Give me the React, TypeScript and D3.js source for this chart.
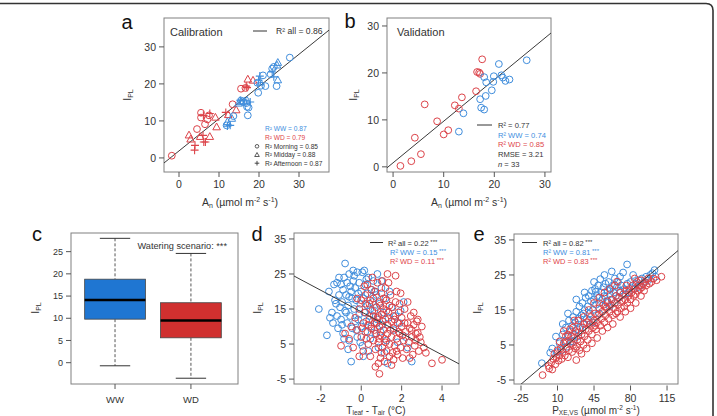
import React from 'react';
import * as d3 from 'd3';

const FONT = '"Liberation Sans", Arial, Helvetica, sans-serif';
const TXT = '#333';
const BLUE = '#3f8ddc';
const RED = '#dc4349';
const BLUE_T = '#3d8ee0';
const RED_T = '#e0454a';

type P = [number, number];

// ---------- panel a (calibration) ----------
const aTicksX = [0, 10, 20, 30];
const aTicksY = [0, 10, 20, 30];
const aWDMorning: P[] = [[-1.8, 0.6], [4.5, 7.8], [5.5, 12.2], [5.5, 10.9], [6.5, 9.1], [7.1, 10.4], [13.4, 14.5], [15.5, 18.7], [16.6, 18.9], [7.5, 11.5]];
const aWDMidday: P[] = [[2.5, 6.1], [2.9, 5.0], [5.3, 5.7], [7.7, 5.7], [9.4, 8.3], [9.1, 10.9], [14.3, 12.9], [17.2, 21.2], [18.5, 20.9], [12.3, 11.6]];
const aWDAfternoon: P[] = [[3.9, 2.1], [4.0, 3.4], [6.2, 4.3], [6.6, 4.3], [7.7, 12.0], [6.1, 11.5], [11.7, 12.3], [16.8, 19.4], [17.0, 19.0], [6.0, 6.1]];
const aWWMorning: P[] = [[11.9, 8.8], [13.6, 11.3], [16.1, 15.1], [17.0, 13.8], [17.2, 11.5], [17.4, 13.6], [19.6, 20.3], [19.8, 17.6], [21.0, 22.3], [21.6, 19.4], [22.9, 22.6], [23.3, 24.1], [23.7, 24.6], [24.4, 19.4], [27.7, 27.1], [20.5, 19.5], [15.5, 15.5], [16.8, 14.8]];
const aWWMidday: P[] = [[12.1, 9.7], [13.2, 10.6], [15.5, 15.1], [14.9, 14.7], [24.7, 25.7], [24.5, 25.0], [24.7, 21.0], [20.3, 20.4], [17.0, 15.5]];
const aWWAfternoon: P[] = [[12.1, 8.6], [12.8, 8.8], [15.3, 15.6], [16.3, 15.4], [19.9, 21.0], [20.2, 22.1], [23.3, 23.2], [23.7, 21.9], [17.8, 15.1]];
const aFit = [1.9, 0.87];
const aLegend = ['R² all = 0.86', 'R² WW = 0.87', 'R² WD = 0.79', 'R² Morning = 0.85', 'R² Midday = 0.88', 'R² Afternoon = 0.87'];

// ---------- panel b (validation) ----------
const bTicksX = [0, 10, 20, 30];
const bTicksY = [0, 10, 20, 30];
const bWD: P[] = [[1.45, 0.2], [3.6, 1.2], [4.3, 6.2], [5.5, 2.7], [6.25, 13.3], [8.7, 9.7], [10.0, 6.9], [10.9, 7.8], [12.2, 13.1], [13.0, 12.4], [13.6, 14.8], [16.4, 16.1], [16.6, 20.2], [17.0, 20.1], [17.2, 19.8], [17.6, 22.9]];
const bWW: P[] = [[13.0, 7.5], [13.9, 11.4], [17.2, 14.4], [17.4, 12.6], [18.0, 12.2], [18.0, 19.1], [18.4, 18.0], [18.3, 15.1], [19.5, 16.3], [19.8, 18.1], [19.9, 19.3], [20.9, 21.9], [21.4, 19.5], [21.7, 19.0], [22.2, 18.3], [23.0, 18.6], [26.4, 22.7]];
const bFit = [0.86, 0.886];
const bLegend = ['R² = 0.77', 'R² WW = 0.74', 'R² WD = 0.85', 'RMSE = 3.21', '= 33'];

// ---------- panel c (boxplot) ----------
const cGroups = ['WW', 'WD'];
const cLow = [-0.7, -3.5];
const cQ1 = [9.8, 5.6];
const cMedian = [14.1, 9.5];
const cQ3 = [18.8, 13.5];
const cHigh = [28.0, 24.6];
const cTicksY = [0, 5, 10, 15, 20, 25];

// ---------- panel d ----------
const dTicksX = [-2, 0, 2, 4];
const dTicksY = [-5, 5, 15, 25, 35];
const dWW: P[] = [[-2.1, 15], [-1.7, 7.5], [-1.6, 20], [-1.45, 14], [-1.4, 11], [-1.3, 17.5], [-1.2, 22.5], [-1.2, 13], [-1.15, 9.5], [-1.1, 19], [-1.05, 15.5], [-1.0, 22], [-1.0, 12], [-0.95, 17], [-0.9, 20.5], [-0.9, 8], [-0.85, 24], [-0.8, 28], [-0.8, 14.5], [-0.75, 19], [-0.7, 11], [-0.7, 22.5], [-0.65, 16], [-0.6, 25], [-0.6, 6], [-0.55, 13], [-0.5, 20], [-0.5, 0], [-0.45, 18], [-0.45, 9.5], [-0.4, 26], [-0.4, 23], [-0.35, 15], [-0.3, 21], [-0.3, 11.5], [-0.25, 17.5], [-0.2, 25.5], [-0.2, 7], [-0.15, 19.5], [-0.1, 13.5], [-0.1, 22.5], [-0.05, 16.5], [0, 20], [0, 10], [0.05, 25.5], [0.05, 4.5], [0.1, 18], [0.1, 1.5], [0.15, 14], [0.2, 22], [0.2, 8.5], [0.25, 11.5], [0.3, 19.5], [0.3, 16], [0.35, 24], [0.4, 13], [0.45, 6.5], [0.5, 20.5], [0.5, 10], [0.55, 17], [0.6, 23], [0.65, 14.5], [0.7, 8], [0.75, 19], [0.8, 25], [0.8, 12], [0.85, 4], [0.9, 16.5], [1.0, 23], [1.0, 21], [1.05, 10.5], [1.1, 14], [1.2, 18], [1.25, 6], [1.3, -0.5], [1.35, 12.5], [1.5, 15.5], [1.6, 9], [1.7, 13], [1.9, 11], [2.1, 17], [2.2, 7], [2.5, 0], [2.3, 4], [-1.35, 22], [-1.1, 24], [-0.95, 10.5], [-0.6, 18.5], [-0.25, 9], [0.15, 26], [-0.75, 14], [-0.55, 21.5], [0.35, 3], [0.65, 20], [-1.55, 12.5], [-1.25, 16.5], [-0.85, 6.5], [-0.15, 12], [0.45, 15], [0.95, 8.5], [1.4, 20], [1.15, 2.5], [-0.05, 5.5], [0.25, 23.5], [-0.35, 24.5], [-0.65, 3.5], [0.75, 11], [1.8, 5.5], [1.95, 14.5]];
const dWD: P[] = [[-1.0, 4.5], [-0.8, 8], [-0.6, 6.5], [-0.5, 10], [-0.4, 4], [-0.3, 12.5], [-0.2, 9], [-0.1, 15], [0, 7], [0, 17.5], [0.1, 11], [0.1, 3], [0.2, 14], [0.2, 19], [0.3, 8.5], [0.3, 22], [0.35, 5], [0.4, 12], [0.4, 16.5], [0.45, 1.5], [0.5, 9.5], [0.5, 20.5], [0.55, 14.5], [0.6, 6], [0.6, 18], [0.65, 11], [0.7, -1.5], [0.7, 3.5], [0.75, 8], [0.75, 15.5], [0.8, 22.5], [0.8, 12.5], [0.85, 5.5], [0.9, -3.5], [0.9, 10], [0.9, 17], [0.95, 1], [0.95, 7.5], [1.0, 13.5], [1.0, 19.5], [1.05, 4], [1.05, 11.5], [1.1, 9], [1.1, 15], [1.15, 0], [1.15, 6.5], [1.2, 21], [1.2, 12], [1.25, 3], [1.25, 17.5], [1.3, 8], [1.3, 10.5], [1.35, 14], [1.4, 5], [1.4, 1.5], [1.45, 19], [1.5, 11.5], [1.5, 7], [1.55, 2.5], [1.55, 15.5], [1.6, 9.5], [1.6, 13], [1.65, 4.5], [1.7, 24.5], [1.7, 17], [1.75, 6.5], [1.8, 11], [1.8, 2], [1.85, 14], [1.9, 8], [1.95, 4], [2.0, 10], [2.0, 12.5], [2.05, 1], [2.1, 6], [2.15, 15], [2.2, 8.5], [2.25, 3.5], [2.3, 11], [2.35, 5.5], [2.4, 9.5], [2.45, 13], [2.5, 7], [2.55, 2], [2.6, 10.5], [2.65, 4.5], [2.7, 8], [2.75, 11.5], [2.8, 8.2], [2.85, 3], [2.9, 7], [2.95, 5.5], [3.2, 2.5], [3.5, -0.5], [4.0, 0.5], [3.0, 10], [2.3, 17], [1.95, 19.5], [2.6, 14], [0.15, 21.5], [0.55, 24], [-0.2, 18], [0.25, 6.5], [0.65, 9], [1.35, 22.5], [1.75, 20], [0.85, 13], [1.2, 5.5], [1.65, 12], [2.05, 7.5], [0.45, 17.5], [1.0, 2.5], [1.5, -1], [1.25, 14.5], [0.7, 20], [2.8, 12], [1.1, 18], [0.35, 10.5], [0.95, 16], [1.45, 9], [1.9, 16.5], [-0.1, 1.5], [0.05, 9.5], [2.4, 1], [2.7, 6], [3.1, 4], [1.6, 0.5], [0.85, -0.5], [1.3, 25], [1.05, 23], [0.6, 13], [2.15, 11], [1.75, 3], [0.9, 6.5], [2.5, 9], [1.4, 16], [0.2, 16.5], [0.75, 11], [1.85, 8.5]];
const dFit = [14.2, -3.07];
const dLegend = ['R² all =  0.22', 'R² WW =  0.15', 'R² WD =  0.11'];

// ---------- panel e ----------
const eTicksX = [-25, 10, 45, 80, 115];
const eTicksY = [-5, 5, 15, 25, 35];
const eWW: P[] = [[-5, -0.2], [3, 2.8], [5, 4], [8.5, 7.4], [10, 3], [12, 5.5], [14, 3.5], [15, 8], [17, 6], [18, 10], [19, 4.5], [20, 7.5], [21, 12], [22, 9], [23, 6], [24, 10.5], [25, 13], [26, 8], [27, 11.5], [28, 14.5], [29, 9.5], [30, 12.5], [31, 16], [32, 10], [33, 13.5], [34, 17], [35, 11], [36, 15], [37, 18.5], [38, 12.5], [39, 16], [40, 19], [41, 14], [42, 17.5], [43, 20.5], [44, 15], [45, 18], [46, 21], [46.7, 20.2], [47, 16.5], [48, 19], [49, 22], [50, 17], [51, 23.8], [52, 20], [53, 18], [54, 21.5], [55, 19], [56, 22.5], [57, 17.5], [58, 20.5], [59, 23], [60, 19.5], [61, 21], [62, 18], [63, 22], [64, 20], [65, 24], [66, 19], [67, 21.5], [68, 23], [69, 18.5], [70, 20.5], [71, 22], [72.9, 25.7], [74, 21], [75, 19.5], [76.7, 28], [77, 22.5], [78, 20], [80, 23], [82.5, 25], [83, 21], [85, 22.5], [87, 21.5], [88, 23.5], [90, 22], [91, 24], [93, 23], [95, 24.5], [97, 23.5], [99, 25], [101, 25.5], [103, 26.4], [104, 24.5], [15, 11], [20, 14], [25, 6], [30, 7.5], [35, 14], [40, 12], [45, 23], [50, 14], [55, 25], [60, 16], [65, 17], [70, 24.5], [62, 26], [58, 17], [44, 11.5], [36, 20], [28, 18]];
const eWD: P[] = [[-4.3, -3.6], [2.1, -1.7], [1.5, -1], [4, 0], [5, -2], [6, 1], [7, 2.5], [8, -0.5], [9, 1.5], [10, 3.5], [11, 0.5], [12, 2], [13, 4], [14, 1], [15, 3], [16, 5.5], [17, 2], [18, 4], [19, 6], [20, 1.5], [21, 3.5], [22, 5.5], [23, 7.5], [24, 3], [25, 5], [26, 7], [27, 9], [28, 0.7], [28.5, 4.5], [29, 6.5], [30, 8.5], [31, 3.5], [32, 6], [33, 8], [34, 10], [35, 5], [36, 7.5], [37, 9.5], [38, 11.5], [39, 6.5], [40, 9], [41, 11], [42, 13], [43, 8], [44, 10], [45, 12], [46, 14], [47, 9.5], [48, 11.5], [49, 13.5], [50, 15.5], [51, 10.5], [52, 12.5], [53, 14.5], [54, 16.5], [55, 11.5], [56, 13.5], [57, 15.5], [58, 17.5], [59, 12.5], [60, 14.5], [61, 16.5], [62, 18], [63, 13.5], [64, 15.5], [65, 17], [66, 19], [67, 23.1], [67.5, 14.5], [68, 16.5], [69, 18.5], [70, 20], [71, 15.5], [72, 17.5], [73, 19.5], [74, 16], [75, 18], [76, 20.5], [77, 17], [78, 19], [79, 21], [80, 18], [81, 20], [82, 22], [83, 19], [84, 21], [85, 19.5], [86, 23], [87, 20.5], [88, 22], [89, 21], [90, 23.5], [91, 21.5], [92, 22.5], [93, 20.5], [94, 23], [95, 22], [97, 24], [98, 22.5], [100, 23], [102, 24], [105, 23.5], [109.6, 24.5], [20, 8], [25, 10], [30, 12], [35, 13], [40, 15], [45, 17], [50, 18.5], [55, 20], [60, 21], [65, 22], [18, 7.5], [22, 9.5], [27, 4], [33, 2.5], [38, 4], [43, 5.5], [48, 7], [53, 9], [58, 10], [63, 11], [70, 13], [75, 14.5], [80, 15.5], [85, 17], [90, 19], [12, 6], [16, 9], [26, 12], [36, 11], [46, 10.5], [56, 16], [66, 14], [76, 22], [84, 24]];
const eFit = [0.14, 0.2535];
const eLegend = ['R² all =  0.82', 'R² WW =  0.81', 'R² WD =  0.83'];

type Sc = d3.ScaleLinear<number, number>;

function Axes({ xs, ys, xTicks, yTicks, fs = 10.5, xLabDy = 12, xTickGap = 0 }: any) {
  const [x0, x1] = xs.range();
  const [yb, yt] = ys.range();
  return (
    <g fontFamily={FONT} fontSize={fs} fill={TXT}>
      <rect x={x0} y={yt} width={x1 - x0} height={yb - yt} fill="none" stroke="#808080" strokeWidth={1} />
      {yTicks.map((t: number) => (
        <g key={'y' + t}>
          <line x1={x0 - 5} x2={x0} y1={ys(t)} y2={ys(t)} stroke="#555" />
          <text x={x0 - 8} y={ys(t)} dy="0.35em" textAnchor="end">{t}</text>
        </g>
      ))}
      {xTicks.map((t: number) => (
        <g key={'x' + t}>
          <line x1={xs(t)} x2={xs(t)} y1={yb + xTickGap} y2={yb + xTickGap + 5} stroke="#555" />
          <text x={xs(t)} y={yb + xLabDy} dy="0.35em" textAnchor="middle">{t}</text>
        </g>
      ))}
    </g>
  );
}

function YLab({ x, y }: { x: number; y: number }) {
  return (
    <text transform={`translate(${x},${y}) rotate(-90)`} textAnchor="middle" fontFamily={FONT} fontSize={10.5} fill={TXT}>
      I<tspan fontSize={7} dy={2}>PL</tspan>
    </text>
  );
}

function Letter({ x, y, t }: { x: number; y: number; t: string }) {
  return <text x={x} y={y} textAnchor="middle" fontFamily={FONT} fontSize={20} fill="#111">{t}</text>;
}

function UnitLabel({ x, y, main, sub, fs = 10.5, sfs = 7, sd = 2, su = 4 }: any) {
  return (
    <text x={x} y={y} textAnchor="middle" fontFamily={FONT} fontSize={fs} fill={TXT}>
      {main}<tspan fontSize={sfs} dy={sd}>{sub}</tspan>
      <tspan dy={-sd}> (µmol m</tspan><tspan fontSize={sfs} dy={-su}>-2</tspan>
      <tspan dy={su}> s</tspan><tspan fontSize={sfs} dy={-su}>-1</tspan><tspan dy={su}>)</tspan>
    </text>
  );
}

function FitLine({ xs, ys, fit, id }: { xs: Sc; ys: Sc; fit: number[]; id: string }) {
  const [d0, d1] = xs.domain();
  return (
    <g clipPath={`url(#${id})`}>
      <line x1={xs(d0)} y1={ys(fit[0] + fit[1] * d0)} x2={xs(d1)} y2={ys(fit[0] + fit[1] * d1)} stroke="#3a3a3a" strokeWidth={1} />
    </g>
  );
}

function Clip({ xs, ys, id }: { xs: Sc; ys: Sc; id: string }) {
  const [x0, x1] = xs.range();
  const [yb, yt] = ys.range();
  return (
    <clipPath id={id}>
      <rect x={x0} y={yt} width={x1 - x0} height={yb - yt} />
    </clipPath>
  );
}

function Circles({ pts, xs, ys, color, r = 3.4 }: { pts: P[]; xs: Sc; ys: Sc; color: string; r?: number }) {
  return (
    <g fill="none" stroke={color} strokeWidth={1}>
      {pts.map((p, i) => <circle key={i} cx={xs(p[0])} cy={ys(p[1])} r={r} />)}
    </g>
  );
}

function Triangles({ pts, xs, ys, color }: { pts: P[]; xs: Sc; ys: Sc; color: string }) {
  return (
    <g fill="none" stroke={color} strokeWidth={1}>
      {pts.map((p, i) => {
        const cx = xs(p[0]), cy = ys(p[1]);
        return <path key={i} d={`M${cx},${cy - 4.2}L${cx + 3.8},${cy + 2.6}L${cx - 3.8},${cy + 2.6}Z`} />;
      })}
    </g>
  );
}

function Pluses({ pts, xs, ys, color }: { pts: P[]; xs: Sc; ys: Sc; color: string }) {
  return (
    <g fill="none" stroke={color} strokeWidth={1.1}>
      {pts.map((p, i) => {
        const cx = xs(p[0]), cy = ys(p[1]);
        return <path key={i} d={`M${cx - 4},${cy}H${cx + 4}M${cx},${cy - 4}V${cy + 4}`} />;
      })}
    </g>
  );
}

function Stars({ children, color, x, y }: any) {
  return (
    <text x={x} y={y} fontFamily={FONT} fontSize={7.5} fill={color}>
      {children}<tspan fontSize={6} dy={-1.5}> ***</tspan>
    </text>
  );
}

export default function App() {
  const axA = d3.scaleLinear().domain([-3.75, 37.5]).range([164, 329]);
  const ayA = d3.scaleLinear().domain([-3.8, 37.8]).range([172, 18]);
  const axB = d3.scaleLinear().domain([-1.2, 31.2]).range([387, 551]);
  const ayB = d3.scaleLinear().domain([-1.1, 31.7]).range([172, 18]);
  const xC = d3.scaleLinear().domain([0.42, 2.62]).range([71, 238]);
  const yC = d3.scaleLinear().domain([-4.8, 29.2]).range([384, 233]);
  const xD = d3.scaleLinear().domain([-3.33, 4.84]).range([294, 459]);
  const yD = d3.scaleLinear().domain([-6.4, 36.7]).range([384, 233]);
  const xE = d3.scaleLinear().domain([-31.7, 125.5]).range([514, 678]);
  const yE = d3.scaleLinear().domain([-6.14, 36.7]).range([384, 234]);

  const boxW = 0.8, capW = 0.4;

  return (
    <svg width={717} height={416} style={{ position: 'absolute', left: 0, top: 0, background: '#fff' }}>
      <defs>
        <Clip xs={axA} ys={ayA} id="ca" />
        <Clip xs={axB} ys={ayB} id="cb" />
        <Clip xs={xD} ys={yD} id="cd" />
        <Clip xs={xE} ys={yE} id="ce" />
      </defs>
      <rect x={0} y={0} width={717} height={416} fill="#fff" />
      <path d="M0,3.5 H706 Q713,3.5 713,10.5 V430" fill="none" stroke="#333" strokeWidth={1.6} />

      {/* ---------- a ---------- */}
      <Letter x={127} y={29} t="a" />
      <Axes xs={axA} ys={ayA} xTicks={aTicksX} yTicks={aTicksY} xLabDy={12} />
      <YLab x={131} y={95} />
      <UnitLabel x={240} y={206} main="A" sub="n" />
      <text x={170} y={36} fontFamily={FONT} fontSize={11} fill={TXT}>Calibration</text>
      <FitLine xs={axA} ys={ayA} fit={aFit} id="ca" />
      <Circles pts={aWDMorning} xs={axA} ys={ayA} color={RED} />
      <Triangles pts={aWDMidday} xs={axA} ys={ayA} color={RED} />
      <Pluses pts={aWDAfternoon} xs={axA} ys={ayA} color={RED} />
      <Circles pts={aWWMorning} xs={axA} ys={ayA} color={BLUE} />
      <Triangles pts={aWWMidday} xs={axA} ys={ayA} color={BLUE} />
      <Pluses pts={aWWAfternoon} xs={axA} ys={ayA} color={BLUE} />
      <line x1={253} x2={267} y1={31} y2={31} stroke="#333" />
      <text x={276} y={34} fontFamily={FONT} fontSize={8.6} fill={TXT}>{aLegend[0]}</text>
      <g fontFamily={FONT} fontSize={6.6}>
        <text x={265} y={130.5} fill={BLUE_T}>{aLegend[1]}</text>
        <text x={265} y={139.5} fill={RED_T}>{aLegend[2]}</text>
        <text x={265} y={148.5} fill={TXT}>{aLegend[3]}</text>
        <text x={265} y={157} fill={TXT}>{aLegend[4]}</text>
        <text x={265} y={165.5} fill={TXT}>{aLegend[5]}</text>
      </g>
      <circle cx={257} cy={146.3} r={1.8} fill="none" stroke="#333" strokeWidth={0.8} />
      <path d="M257,152.5L259.3,156.5L254.7,156.5Z" fill="none" stroke="#333" strokeWidth={0.8} />
      <path d="M254.7,163.2H259.3M257,160.9V165.5" fill="none" stroke="#333" strokeWidth={0.9} />

      {/* ---------- b ---------- */}
      <Letter x={350} y={28} t="b" />
      <Axes xs={axB} ys={ayB} xTicks={bTicksX} yTicks={bTicksY} xLabDy={12} />
      <YLab x={357} y={95} />
      <UnitLabel x={469} y={206} main="A" sub="n" />
      <text x={397} y={36} fontFamily={FONT} fontSize={11} fill={TXT}>Validation</text>
      <FitLine xs={axB} ys={ayB} fit={bFit} id="cb" />
      <Circles pts={bWD} xs={axB} ys={ayB} color={RED} />
      <Circles pts={bWW} xs={axB} ys={ayB} color={BLUE} />
      <line x1={477} x2={492} y1={125} y2={125} stroke="#333" />
      <g fontFamily={FONT} fontSize={7.6}>
        <text x={498} y={127.8} fill={TXT}>{bLegend[0]}</text>
        <text x={498} y={137.6} fill={BLUE_T}>{bLegend[1]}</text>
        <text x={498} y={147.4} fill={RED_T}>{bLegend[2]}</text>
        <text x={498} y={157} fill={TXT}>{bLegend[3]}</text>
        <text x={498} y={166.5} fill={TXT}><tspan fontStyle="italic">n</tspan> {bLegend[4]}</text>
      </g>

      {/* ---------- c ---------- */}
      <Letter x={37} y={241} t="c" />
      <Axes xs={xC} ys={yC} xTicks={[]} yTicks={cTicksY} fs={9} />
      <YLab x={39} y={308} />
      {cGroups.map((g, i) => {
        const cx = xC(i + 1);
        const half = (xC(i + 1 + boxW / 2) - xC(i + 1 - boxW / 2)) / 2;
        const capHalf = (xC(i + 1 + capW / 2) - xC(i + 1 - capW / 2)) / 2;
        const fill = i === 0 ? '#1f76d2' : '#d0302f';
        return (
          <g key={g}>
            <line x1={cx} x2={cx} y1={yC(cHigh[i])} y2={yC(cQ3[i])} stroke="#555" strokeDasharray="3,2" />
            <line x1={cx} x2={cx} y1={yC(cQ1[i])} y2={yC(cLow[i])} stroke="#555" strokeDasharray="3,2" />
            <line x1={cx - capHalf} x2={cx + capHalf} y1={yC(cHigh[i])} y2={yC(cHigh[i])} stroke="#333" />
            <line x1={cx - capHalf} x2={cx + capHalf} y1={yC(cLow[i])} y2={yC(cLow[i])} stroke="#333" />
            <rect x={cx - half} y={yC(cQ3[i])} width={half * 2} height={yC(cQ1[i]) - yC(cQ3[i])} fill={fill} stroke="#444" strokeWidth={0.8} />
            <line x1={cx - half} x2={cx + half} y1={yC(cMedian[i])} y2={yC(cMedian[i])} stroke="#000" strokeWidth={2.6} />
            <line x1={cx} x2={cx} y1={384} y2={389} stroke="#555" />
            <text x={cx} y={403} textAnchor="middle" fontFamily={FONT} fontSize={9.5} fill={TXT}>{g}</text>
          </g>
        );
      })}
      <text x={227} y={249} textAnchor="end" fontFamily={FONT} fontSize={9.2} fill={TXT}>Watering scenario: ***</text>

      {/* ---------- d ---------- */}
      <Letter x={257} y={241} t="d" />
      <Axes xs={xD} ys={yD} xTicks={dTicksX} yTicks={dTicksY} xLabDy={14.5} xTickGap={1.5} />
      <YLab x={261} y={308} />
      <Circles pts={dWW} xs={xD} ys={yD} color={BLUE} />
      <Circles pts={dWD} xs={xD} ys={yD} color={RED} />
      <FitLine xs={xD} ys={yD} fit={dFit} id="cd" />
      <line x1={370} x2={383} y1={242.5} y2={242.5} stroke="#333" />
      <Stars x={388} y={245.5} color={TXT}>{dLegend[0]}</Stars>
      <Stars x={390} y={254.5} color={BLUE_T}>{dLegend[1]}</Stars>
      <Stars x={390} y={263.5} color={RED_T}>{dLegend[2]}</Stars>
      <text x={376} y={413.5} textAnchor="middle" fontFamily={FONT} fontSize={10} fill={TXT}>
        T<tspan fontSize={6.5} dy={1.2}>leaf</tspan><tspan dy={-1.2}> - T</tspan><tspan fontSize={6.5} dy={1.2}>air</tspan><tspan dy={-1.2}> (°C)</tspan>
      </text>

      {/* ---------- e ---------- */}
      <Letter x={479} y={241} t="e" />
      <Axes xs={xE} ys={yE} xTicks={eTicksX} yTicks={eTicksY} xLabDy={14.5} xTickGap={1.5} />
      <YLab x={481} y={308} />
      <Circles pts={eWW} xs={xE} ys={yE} color={BLUE} />
      <Circles pts={eWD} xs={xE} ys={yE} color={RED} />
      <FitLine xs={xE} ys={yE} fit={eFit} id="ce" />
      <line x1={522} x2={537} y1={242.5} y2={242.5} stroke="#333" />
      <Stars x={543} y={245.5} color={TXT}>{eLegend[0]}</Stars>
      <Stars x={543} y={254.5} color={BLUE_T}>{eLegend[1]}</Stars>
      <Stars x={543} y={263.5} color={RED_T}>{eLegend[2]}</Stars>
      <UnitLabel x={596} y={413.5} main="P" sub="XE,VS" fs={10} sfs={6.5} sd={1.2} su={3.5} />
    </svg>
  );
}
